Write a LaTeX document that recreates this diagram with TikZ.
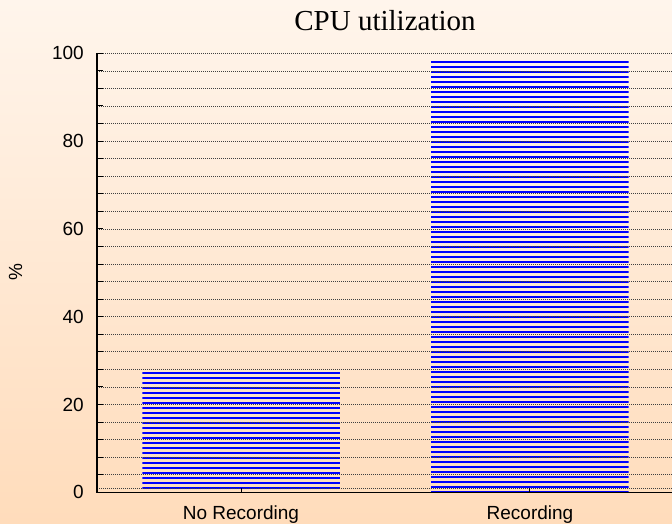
\documentclass[tikz,border=0pt]{standalone}
\usepackage{fontspec}
\setmainfont{Liberation Serif}
\newfontfamily\arialf{Liberation Sans}
\definecolor{bgtop}{HTML}{FFF5EC}
\definecolor{bgbot}{HTML}{FFDCBB}
\definecolor{barblue}{HTML}{0000FF}
\tikzset{
  gridln/.style={black!75, line width=0.7pt, dash pattern=on 0.9pt off 1.1pt},
  axisln/.style={black, line width=1.3pt},
  tickln/.style={black, line width=1pt},
  stripe/.style={barblue, line width=2.2pt},
  ticklab/.style={font=\arialf\fontsize{19}{19}\selectfont, anchor=east, inner sep=0pt},
  catlab/.style={font=\arialf\fontsize{19}{19}\selectfont, anchor=base, inner sep=0pt},
}
\begin{document}
\begin{tikzpicture}[x=1pt,y=1pt]
\shade[top color=bgtop,bottom color=bgbot] (0,0) rectangle (672,523);
\useasboundingbox (0,0) rectangle (672,523);
% bars
\begin{scope}
\clip (142.3,30.7) rectangle (340,151.3);
\foreach \yy in {150.2,145.2,...,30} \draw[stripe] (142.3,\yy) -- (340,\yy);
\end{scope}
\begin{scope}
\clip (431,30.7) rectangle (628.7,462.3);
\foreach \yy in {461.2,456.2,...,30} \draw[stripe] (431,\yy) -- (628.7,\yy);
\end{scope}
% grid
\foreach \v in {4,8,...,100} {
  \draw[gridln] (97,{30.7+4.39*\v}) -- (672,{30.7+4.39*\v});
  \draw[tickln] (97,{30.7+4.39*\v}) -- (103,{30.7+4.39*\v});
}
\draw[gridln] (97,35) -- (672,35);
% axes
\draw[axisln] (97,470) -- (97,30.7) -- (672,30.7);
\draw[tickln] (241.7,30.7) -- (241.7,35);
\draw[tickln] (529.7,30.7) -- (529.7,35);
% labels
\foreach \v in {0,20,40,60,80,100}
  \node[ticklab] (yl\v) at (84,{30.7+4.39*\v}) {\v};
\node[font=\arialf\fontsize{19}{19}\selectfont, rotate=90] (ylab) at (15.5,251) {\%};
\node[font=\fontsize{29}{29}\selectfont, anchor=base, inner sep=0pt] (title) at (385,492) {CPU utilization};
\node[catlab] (c1) at (241,4) {No Recording};
\node[catlab] (c2) at (530,4) {Recording};
\end{tikzpicture}
\end{document}
